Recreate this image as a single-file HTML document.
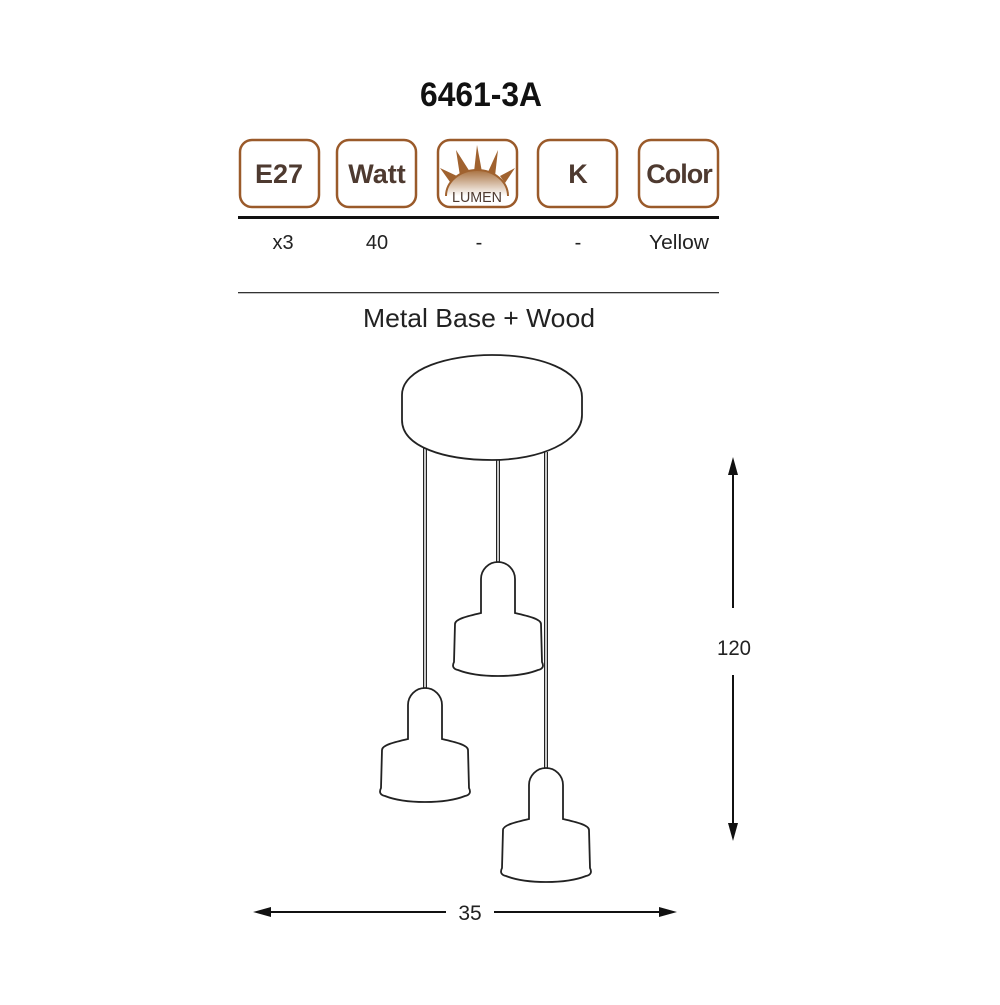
<!DOCTYPE html>
<html><head><meta charset="utf-8"><style>
body{margin:0;background:#fff;}
.w{position:relative;width:1000px;height:1000px;font-family:"Liberation Sans",sans-serif;}
</style></head><body><div class="w">
<svg width="1000" height="1000" viewBox="0 0 1000 1000" xmlns="http://www.w3.org/2000/svg">
<defs>
<linearGradient id="g" x1="0" y1="0" x2="0" y2="1"><stop offset="0" stop-color="#a8703f"/><stop offset="1" stop-color="#fff"/></linearGradient>
<path id="lamp" d="M-17,51 L-17,17 A17,17 0 0 1 17,17 L17,51 C30,54 43,57 43,62 L44,100 C46,104 45,107 40,108 C20,116 -20,116 -40,108 C-45,107 -46,104 -44,100 L-43,62 C-43,57 -30,54 -17,51 Z" fill="#fff" stroke="#222" stroke-width="1.8"/>
</defs>
<text x="481" y="106" font-size="34" font-weight="bold" text-anchor="middle" fill="#111" textLength="122" lengthAdjust="spacingAndGlyphs">6461-3A</text>
<g fill="#fff" stroke="#9a5a2a" stroke-width="2.5">
<rect x="240" y="140" width="79" height="67" rx="12"/>
<rect x="337" y="140" width="79" height="67" rx="12"/>
<rect x="438" y="140" width="79" height="67" rx="12"/>
<rect x="538" y="140" width="79" height="67" rx="12"/>
<rect x="639" y="140" width="79" height="67" rx="12"/>
</g>
<g font-size="27" font-weight="bold" fill="#4e3a30" text-anchor="middle">
<text x="279" y="183">E27</text>
<text x="377" y="183">Watt</text>
<text x="578" y="183">K</text>
<text x="679" y="183" letter-spacing="-1">Color</text>
</g>
<g fill="#a0622f">
<polygon points="474,172 477,145 482,172"/>
<polygon points="460,176 456,150 470,172"/>
<polygon points="488,172 498,150 495,176"/>
<polygon points="450,182 440,168 457,176"/>
<polygon points="500,176 515,168 505,183"/>
</g>
<path d="M446,196 A31,26 0 0 1 508,196 Z" fill="url(#g)"/>
<path d="M446,196 A31,26 0 0 1 508,196" fill="none" stroke="#a0622f" stroke-width="2"/>
<text x="477" y="202" font-size="15" fill="#4e3a30" text-anchor="middle" textLength="50" lengthAdjust="spacingAndGlyphs">LUMEN</text>
<rect x="238" y="216" width="481" height="3" fill="#111"/>
<g font-size="20" fill="#222" text-anchor="middle">
<text x="283" y="249">x3</text>
<text x="377" y="249">40</text>
<text x="479" y="249">-</text>
<text x="578" y="249">-</text>
<text x="679" y="249" textLength="60" lengthAdjust="spacingAndGlyphs">Yellow</text>
</g>
<rect x="238" y="292" width="481" height="1.3" fill="#333"/>
<text x="479" y="327" font-size="26" fill="#222" text-anchor="middle" textLength="232" lengthAdjust="spacingAndGlyphs">Metal Base + Wood</text>
<g stroke="#222" stroke-width="4"><line x1="425" y1="440" x2="425" y2="690"/><line x1="498" y1="458" x2="498" y2="564"/><line x1="546" y1="452" x2="546" y2="770"/></g>
<g stroke="#fff" stroke-width="1.5"><line x1="425" y1="440" x2="425" y2="690"/><line x1="498" y1="458" x2="498" y2="564"/><line x1="546" y1="452" x2="546" y2="770"/></g>
<path d="M402,395 C402,368 450,355 492,355 C540,355 582,370 582,397 L582,415 C582,442 540,460 492,460 C445,460 402,447 402,420 Z" fill="#fff" stroke="#222" stroke-width="1.8"/>
<use href="#lamp" transform="translate(498,562)"/>
<use href="#lamp" transform="translate(425,688)"/>
<use href="#lamp" transform="translate(546,768)"/>
<g stroke="#111" stroke-width="2"><line x1="733" y1="470" x2="733" y2="608"/><line x1="733" y1="675" x2="733" y2="828"/>
<line x1="266" y1="912" x2="446" y2="912"/><line x1="494" y1="912" x2="664" y2="912"/></g>
<g fill="#111"><polygon points="733,457 728,475 738,475"/><polygon points="733,841 728,823 738,823"/>
<polygon points="253,912 271,907 271,917"/><polygon points="677,912 659,907 659,917"/></g>
<text x="734" y="655" font-size="21" fill="#222" text-anchor="middle" textLength="34" lengthAdjust="spacingAndGlyphs">120</text>
<text x="470" y="920" font-size="21" fill="#222" text-anchor="middle">35</text>
</svg>
</div></body></html>
